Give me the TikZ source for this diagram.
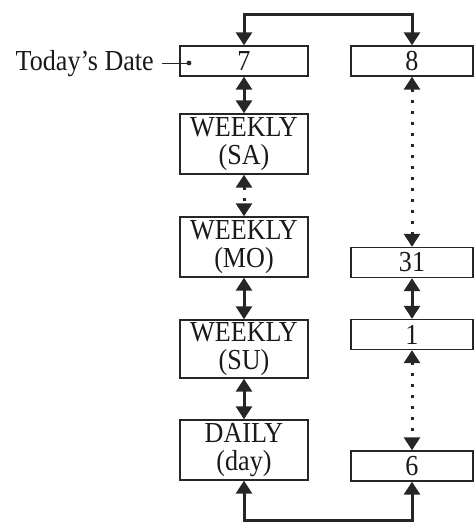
\documentclass[tikz,border=0pt]{standalone}
\usepackage{fontspec}
\setmainfont[FakeStretch=0.9]{Liberation Serif}
\usetikzlibrary{arrows.meta}
\begin{document}
\begin{tikzpicture}[x=1pt,y=-1pt,
  box/.style={draw=black!85, line width=1.4pt, inner sep=0pt, align=center,
    font=\fontsize{29}{28}\selectfont, text=black!90},
  lbox/.style={box, minimum width=128pt},
  rbox/.style={box, minimum width=122pt, minimum height=30pt},
  link/.style={line width=3pt, draw=black!85,
    {Triangle[length=13pt,width=16pt]}-{Triangle[length=13pt,width=16pt]}},
  dotlink/.style={link, dash pattern=on 3pt off 8pt},
  lbl/.style={inner sep=0pt, font=\fontsize{29}{28}\selectfont, text=black!90}]
\useasboundingbox (0,0) rectangle (474,523);
% left column
\node[lbox, minimum height=30pt] (n7) at (244,61) {7};
\node[lbox, minimum height=60pt] (sa) at (244,144) {WEEKLY\\(SA)};
\node[lbox, minimum height=60pt] (mo) at (244,247) {WEEKLY\\(MO)};
\node[lbox, minimum height=58pt] (su) at (244,349) {WEEKLY\\(SU)};
\node[lbox, minimum height=60pt] (daily) at (244,450) {DAILY\\(day)};
% right column
\node[rbox] (n8) at (412,61) {8};
\node[rbox] (n31) at (412,262.5) {31};
\node[rbox] (n1) at (412,334.5) {1};
\node[rbox] (n6) at (412,466) {6};
% label
\node[lbl, anchor=base east] (td) at (154,70) {Today’s Date};
\coordinate (dot) at (189,63);
\draw[line width=1pt, black!85] ([xshift=8pt]td.east |- dot) -- (dot);
\fill[black!85] (dot) circle (2.4);
% vertical links
\draw[link] (n7.south) -- (sa.north);
\draw[dotlink] (sa.south) -- (mo.north);
\draw[link] (mo.south) -- (su.north);
\draw[link] (su.south) -- (daily.north);
\draw[dotlink] (n8.south) -- (n31.north);
\draw[link] (n31.south) -- (n1.north);
\draw[dotlink] (n1.south) -- (n6.north);
% wrap-around links
\coordinate (top) at (0,14);
\coordinate (bot) at (0,520.5);
\draw[link, line join=miter] (n7.north) -- (n7.north |- top) -- (n8.north |- top) -- (n8.north);
\draw[link, line join=miter] (daily.south) -- (daily.south |- bot) -- (n6.south |- bot) -- (n6.south);
\end{tikzpicture}
\end{document}
